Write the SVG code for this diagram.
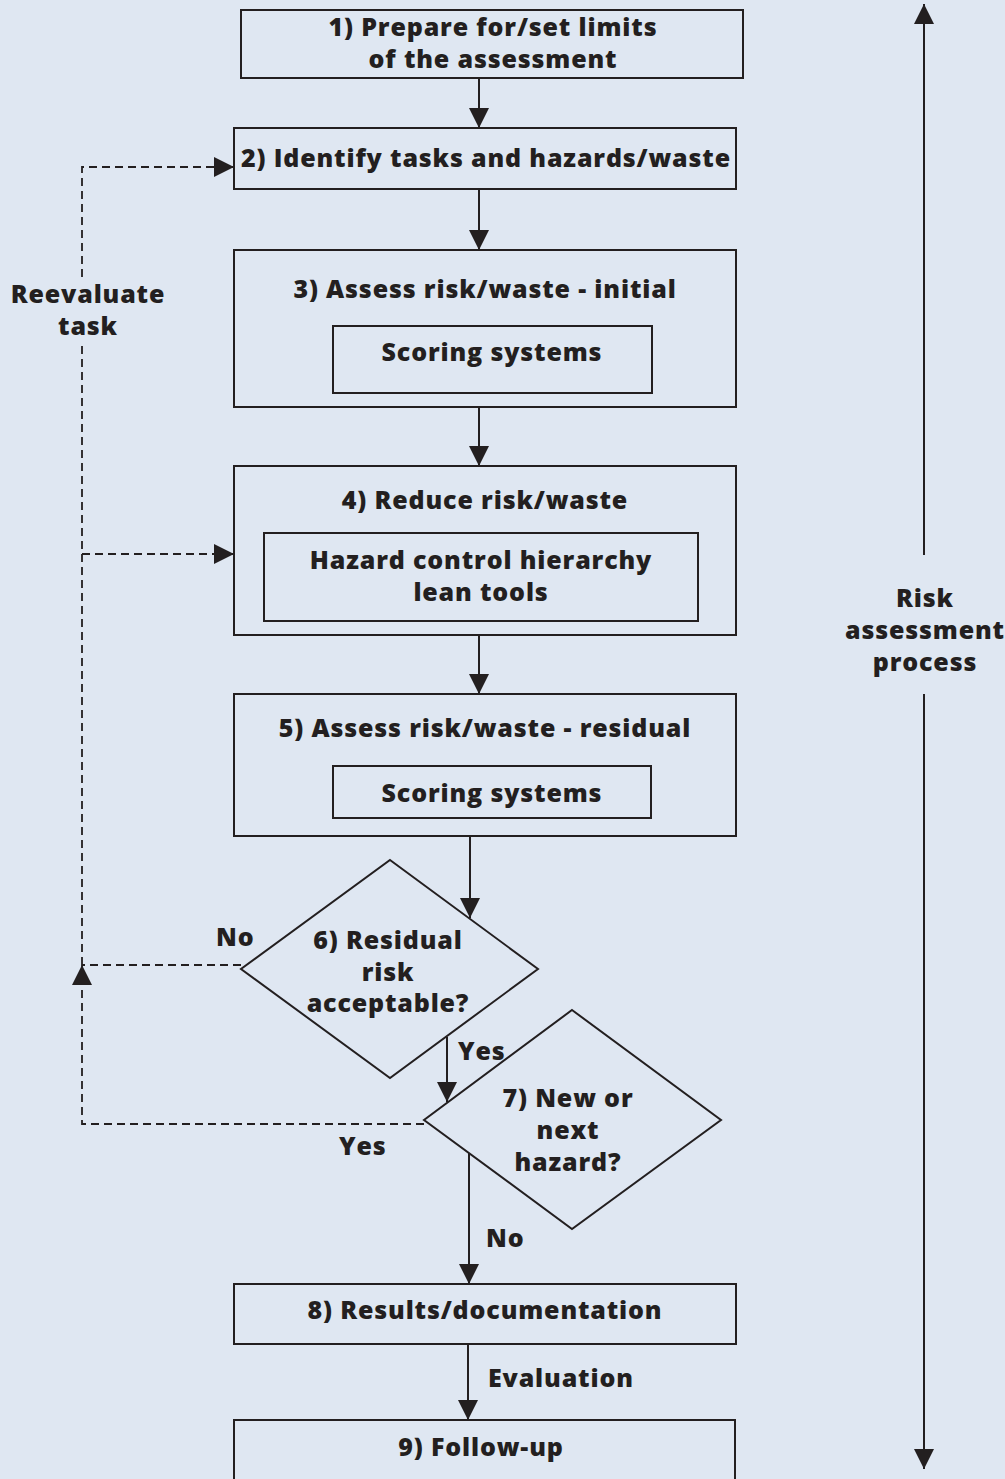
<svg xmlns="http://www.w3.org/2000/svg" width="1005" height="1479" viewBox="0 0 1005 1479">
<defs>
<marker id="ah" viewBox="0 0 20 20" refX="20" refY="10" markerWidth="20" markerHeight="20" markerUnits="userSpaceOnUse" orient="auto">
<path d="M0,0 L20,10 L0,20 z" fill="#231f20"/>
</marker>
<style>
.box{fill:none;stroke:#231f20;stroke-width:2}
.t{font-family:"Open Sans","Noto Sans","Liberation Sans",sans-serif;font-weight:800;font-size:25px;letter-spacing:0.85px;fill:#231f20;text-anchor:middle}
.l{font-family:"Open Sans","Noto Sans","Liberation Sans",sans-serif;font-weight:800;font-size:25px;letter-spacing:0.85px;fill:#231f20}
.c{fill:none;stroke:#231f20;stroke-width:2}
.d{fill:none;stroke:#231f20;stroke-width:1.8;stroke-dasharray:8 5}
</style>
</defs>
<rect width="1005" height="1479" fill="#dfe7f2"/>

<g id="connectors">
<path class="c" d="M479,78 V128" marker-end="url(#ah)"/>
<path class="c" d="M479,189 V250" marker-end="url(#ah)"/>
<path class="c" d="M479,407 V466" marker-end="url(#ah)"/>
<path class="c" d="M479,635 V694" marker-end="url(#ah)"/>
<path class="c" d="M470,836 V918" marker-end="url(#ah)"/>
<path class="c" d="M447,1037 V1102" marker-end="url(#ah)"/>
<path class="c" d="M469,1153 V1284" marker-end="url(#ah)"/>
<path class="c" d="M468,1345 V1420" marker-end="url(#ah)"/>
<path class="d" d="M241,965 H82"/>
<path class="d" d="M424,1124 H82 V965" marker-end="url(#ah)"/>
<path class="d" d="M82,965 V345"/>
<path class="d" d="M82,277 V167 H234" marker-end="url(#ah)"/>
<path class="d" d="M82,554 H234" marker-end="url(#ah)"/>
<path class="c" d="M924,555 V4" marker-end="url(#ah)"/>
<path class="c" d="M924,694 V1469" marker-end="url(#ah)"/>
<text class="l" x="216" y="946">No</text>
<text class="l" x="458" y="1060">Yes</text>
<text class="l" x="339" y="1155">Yes</text>
<text class="l" x="486" y="1247">No</text>
<text class="l" x="488" y="1387">Evaluation</text>
<text class="t" x="88" y="303">Reevaluate</text>
<text class="t" x="88" y="335">task</text>
</g>

<g id="n1">
<rect class="box" x="241" y="10" width="502" height="68"/>
<text class="t" x="493" y="36">1) Prepare for/set limits</text>
<text class="t" x="493" y="68">of the assessment</text>
</g>
<g id="n2">
<rect class="box" x="234" y="128" width="502" height="61"/>
<text class="t" x="486" y="167">2) Identify tasks and hazards/waste</text>
</g>
<g id="n3">
<rect class="box" x="234" y="250" width="502" height="157"/>
<text class="t" x="485" y="298">3) Assess risk/waste - initial</text>
<rect class="box" x="333" y="326" width="319" height="67"/>
<text class="t" x="492" y="361">Scoring systems</text>
</g>
<g id="n4">
<rect class="box" x="234" y="466" width="502" height="169"/>
<text class="t" x="485" y="509">4) Reduce risk/waste</text>
<rect class="box" x="264" y="533" width="434" height="88"/>
<text class="t" x="481" y="569">Hazard control hierarchy</text>
<text class="t" x="481" y="601">lean tools</text>
</g>
<g id="n5">
<rect class="box" x="234" y="694" width="502" height="142"/>
<text class="t" x="485" y="737">5) Assess risk/waste - residual</text>
<rect class="box" x="333" y="766" width="318" height="52"/>
<text class="t" x="492" y="802">Scoring systems</text>
</g>
<g id="n6">
<polygon class="box" points="390,860 538,969 390,1078 241,969"/>
<text class="t" x="388" y="949">6) Residual</text>
<text class="t" x="388" y="981">risk</text>
<text class="t" x="388" y="1012">acceptable?</text>
</g>
<g id="n7">
<polygon class="box" points="572,1010 721,1120 572,1229 424,1120"/>
<text class="t" x="568" y="1107">7) New or</text>
<text class="t" x="568" y="1139">next</text>
<text class="t" x="568" y="1171">hazard?</text>
</g>
<g id="n8">
<rect class="box" x="234" y="1284" width="502" height="60"/>
<text class="t" x="485" y="1319">8) Results/documentation</text>
</g>
<g id="n9">
<rect class="box" x="234" y="1420" width="501" height="70"/>
<text class="t" x="481" y="1456">9) Follow-up</text>
</g>
<g id="side">
<text class="t" x="925" y="607">Risk</text>
<text class="t" x="925" y="639">assessment</text>
<text class="t" x="925" y="671">process</text>
</g>
</svg>
